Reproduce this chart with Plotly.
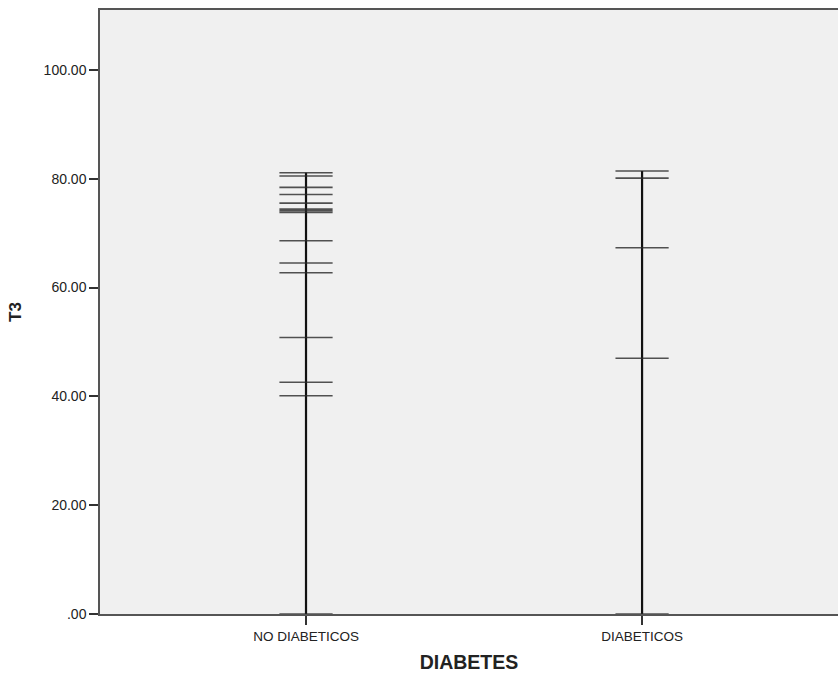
import plotly.graph_objects as go

# T3 values per diabetes group
categories = ["NO DIABETICOS", "DIABETICOS"]
t3_no_diabeticos = [81.1, 80.5, 78.4, 77.1, 75.5, 74.4, 74.1, 73.8, 68.6, 64.5, 62.7, 50.8, 42.6, 40.1, 0.0]
t3_diabeticos = [81.4, 80.1, 67.3, 47.0, 0.0]
groups = [t3_no_diabeticos, t3_diabeticos]

y_ticks = [0, 20, 40, 60, 80, 100]
y_tick_labels = [".00", "20.00", "40.00", "60.00", "80.00", "100.00"]

fig = go.Figure()

for cat, vals in zip(categories, groups):
    # drop line from the base up to the highest value
    fig.add_trace(go.Scatter(
        x=[cat, cat], y=[min(vals), max(vals)],
        mode="lines",
        line=dict(color="#111111", width=2.2),
        hoverinfo="skip", showlegend=False,
    ))
    # one horizontal mark per observation
    fig.add_trace(go.Scatter(
        x=[cat] * len(vals), y=vals,
        mode="markers",
        marker=dict(symbol="line-ew", size=38,
                    line=dict(color="rgba(40,40,40,0.8)", width=1.6)),
        showlegend=False,
    ))

font_family = "Liberation Sans, Arial, sans-serif"

fig.update_layout(
    width=838, height=679,
    margin=dict(l=100, r=0, t=10, b=65),
    paper_bgcolor="white",
    plot_bgcolor="#f0f0f0",
    font=dict(family=font_family, color="#222222", size=12),
    xaxis=dict(
        type="category",
        categoryorder="array", categoryarray=categories,
        range=[-0.613, 1.583],
        showline=True, linecolor="#555555", linewidth=1.5, mirror=True,
        ticks="outside", ticklen=9, tickcolor="#333333", tickwidth=1.5,
        tickfont=dict(size=13.5, color="#222222"),
        showgrid=False, zeroline=False,
        title=dict(text="<b>DIABETES</b>", font=dict(size=19.5, color="#222222"), standoff=12),
    ),
    yaxis=dict(
        range=[0, 111.0],
        tickvals=y_ticks, ticktext=y_tick_labels,
        showline=True, linecolor="#555555", linewidth=1.5,
        ticks="outside", ticklen=9, tickcolor="#333333", tickwidth=1.5,
        tickfont=dict(size=14, color="#222222"),
        showgrid=False, zeroline=False,
        title=dict(text="<b>T3</b>", font=dict(size=17, color="#222222"), standoff=18),
    ),
)

fig.write_html("out.html")
